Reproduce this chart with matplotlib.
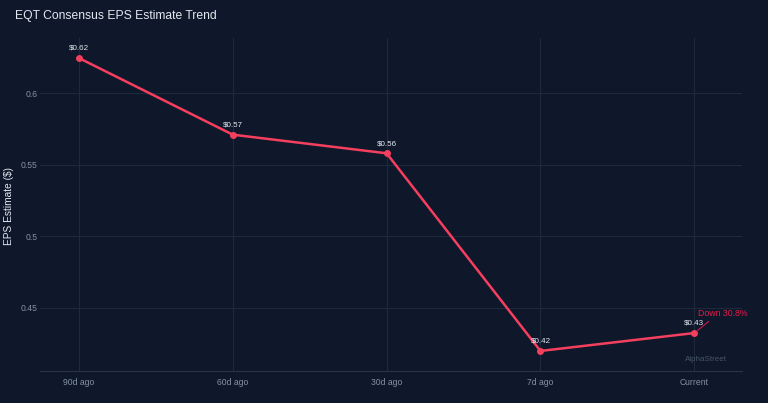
import matplotlib.pyplot as plt

plt.rcParams['font.family'] = ['Liberation Sans', 'DejaVu Sans']

# EPS estimate trend data
periods = ["90d ago", "60d ago", "30d ago", "7d ago", "Current"]
eps = [0.6245, 0.571, 0.558, 0.42, 0.4325]
labels = ["$0.62", "$0.57", "$0.56", "$0.42", "$0.43"]
yticks = [0.45, 0.5, 0.55, 0.6]
ytick_labels = ["0.45", "0.5", "0.55", "0.6"]
change_text = "Down 30.8%"

bg = "#0f172a"
red = "#f43f5e"
grid_col = "#1e293b"
tick_col = "#8391a7"

fig = plt.figure(figsize=(7.68, 4.03), dpi=100, facecolor=bg)
ax = fig.add_axes([40 / 768, 1 - 371 / 403, 702 / 768, 333 / 403])
ax.set_facecolor(bg)

x = list(range(len(periods)))
ax.plot(x, eps, color=red, lw=1.8, marker="o", ms=4, zorder=3)

for xi, yi, lab in zip(x, eps, labels):
    ax.annotate(lab, (xi, yi), xytext=(0, 4.5), textcoords="offset points",
                ha="center", va="bottom", fontsize=5.8, color="#e2e8f0")

# change annotation on the last point
ax.annotate(change_text, (x[-1], eps[-1]), xytext=(3, 11),
            textcoords="offset points", ha="left", va="bottom", fontsize=6.3,
            color="#e11d48",
            arrowprops=dict(arrowstyle="-", color="#e11d48", lw=0.7,
                            shrinkA=1, shrinkB=3, relpos=(0.3, 0)))

ax.text(0.979, 0.024, "AlphaStreet", transform=ax.transAxes, ha="right", va="bottom",
        fontsize=5.8, color="#475569")

ax.set_xlim(-0.253, 4.31)
ax.set_ylim(0.406, 0.6385)
ax.set_xticks(x)
ax.set_xticklabels(periods)
ax.set_yticks(yticks)
ax.set_yticklabels(ytick_labels)
ax.tick_params(colors=tick_col, labelsize=6.2, length=0, pad=2)
ax.tick_params(axis="x", pad=5)
ax.grid(True, color=grid_col, lw=0.8)
ax.set_axisbelow(True)
for s in ["top", "right", "left"]:
    ax.spines[s].set_visible(False)
ax.spines["bottom"].set_color("#283548")

fig.text(9 / 768, 1 - 206 / 403, "EPS Estimate ($)", color="#e2e8f0", fontsize=7.3,
         rotation=90, ha="center", va="center")
fig.text(15 / 768, 1 - 16 / 403, "EQT Consensus EPS Estimate Trend", color="#e2e8f0",
         fontsize=8.7, ha="left", va="center")

fig.savefig("out.png", dpi=100, facecolor=bg)
